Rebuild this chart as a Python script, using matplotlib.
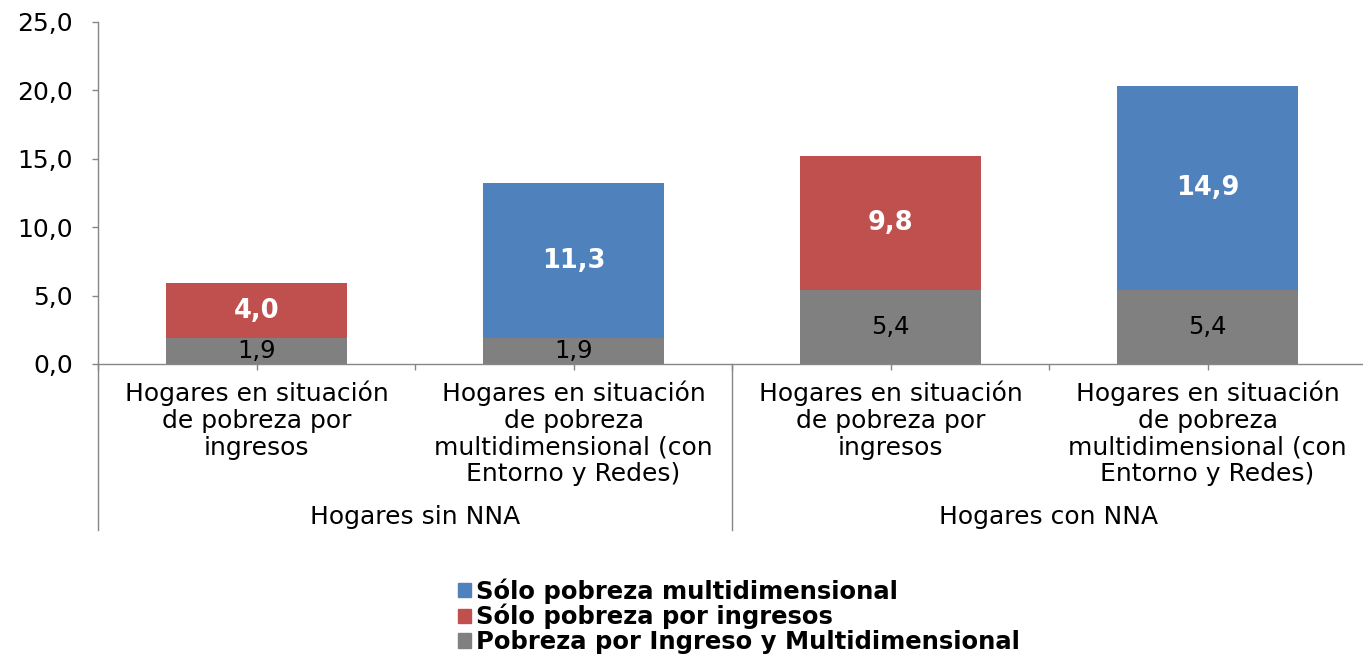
import matplotlib
matplotlib.use("Agg")
import matplotlib.pyplot as plt
from matplotlib.patches import Patch
from matplotlib.lines import Line2D

# data
groups = ["Hogares sin NNA", "Hogares con NNA"]
categories = [
    "Hogares en situación\nde pobreza por\ningresos",
    "Hogares en situación\nde pobreza\nmultidimensional (con\nEntorno y Redes)",
    "Hogares en situación\nde pobreza por\ningresos",
    "Hogares en situación\nde pobreza\nmultidimensional (con\nEntorno y Redes)",
]
ambas = [1.9, 1.9, 5.4, 5.4]          # Pobreza por Ingreso y Multidimensional
solo_ingresos = [4.0, 0.0, 9.8, 0.0]  # Sólo pobreza por ingresos
solo_multi = [0.0, 11.3, 0.0, 14.9]   # Sólo pobreza multidimensional
yticks = [0, 5, 10, 15, 20, 25]

BLUE = "#4F81BD"
RED = "#C0504D"
GRAY = "#808080"
AXIS = "#868686"


def fmt(v):
    return f"{v:.1f}".replace(".", ",")


plt.rcParams["font.family"] = ["DejaVu Sans"]

fig = plt.figure(figsize=(13.63, 6.55), dpi=100)
ax = fig.add_axes([98 / 1363, 1 - 364 / 655, 1268 / 1363, 342 / 655])

x = list(range(len(categories)))
w = 0.568
ax.bar(x, ambas, w, color=GRAY, edgecolor="none")
ax.bar(x, solo_ingresos, w, bottom=ambas, color=RED, edgecolor="none")
bottom2 = [a + b for a, b in zip(ambas, solo_ingresos)]
ax.bar(x, solo_multi, w, bottom=bottom2, color=BLUE, edgecolor="none")

# value labels
for i in x:
    ax.text(i, ambas[i] / 2, fmt(ambas[i]), ha="center", va="center",
            fontsize=17.5, color="black")
    if solo_ingresos[i] > 0:
        ax.text(i, ambas[i] + solo_ingresos[i] / 2, fmt(solo_ingresos[i]),
                ha="center", va="center", fontsize=18.5, color="white",
                fontweight="bold")
    if solo_multi[i] > 0:
        ax.text(i, bottom2[i] + solo_multi[i] / 2, fmt(solo_multi[i]),
                ha="center", va="center", fontsize=18.5, color="white",
                fontweight="bold")

ax.set_xlim(-0.5, 3.5)
ax.set_ylim(0, 25)
ax.set_yticks(yticks)
ax.set_yticklabels([fmt(v) for v in yticks], fontsize=18, color="black")

ax.set_xticks([-0.5, 0, 0.5, 1, 1.5, 2, 2.5, 3, 3.5])
ax.set_xticklabels([])
ax.tick_params(axis="both", direction="out", length=4.5, width=1, color=AXIS)
ax.tick_params(axis="y", pad=13.5)

for s in ["top", "right"]:
    ax.spines[s].set_visible(False)
for s in ["left", "bottom"]:
    ax.spines[s].set_color(AXIS)
    ax.spines[s].set_linewidth(1)

tr = ax.get_xaxis_transform()
for i, lab in enumerate(categories):
    ax.text(i, -0.048, lab, transform=tr, ha="center", va="top",
            fontsize=18, linespacing=1.15, multialignment="center")
for g, lab in enumerate(groups):
    ax.text(0.5 + 2 * g, -0.447, lab, transform=tr, ha="center",
            va="center", fontsize=18)
for xs in [-0.5, 1.5, 3.5]:
    ax.add_line(Line2D([xs, xs], [0, -0.485], transform=tr, color=AXIS,
                       lw=1, clip_on=False))

handles = [Patch(color=BLUE), Patch(color=RED), Patch(color=GRAY)]
labels = ["Sólo pobreza multidimensional", "Sólo pobreza por ingresos",
          "Pobreza por Ingreso y Multidimensional"]
fig.legend(handles, labels, loc="upper left",
           bbox_to_anchor=(458 / 1363, 1 - 578 / 655), frameon=False,
           prop={"size": 17.5, "weight": "bold"}, handlelength=0.55,
           handleheight=0.55, handletextpad=0.2, labelspacing=0.02,
           borderpad=0, borderaxespad=0)

fig.savefig("out.png", dpi=100)
